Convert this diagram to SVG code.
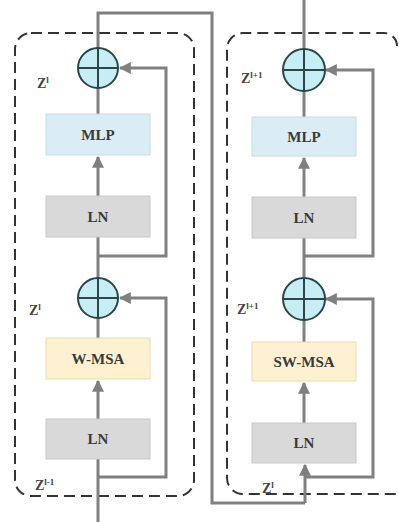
<svg xmlns="http://www.w3.org/2000/svg" width="399" height="522" viewBox="0 0 399 522">
<defs>
<marker id="ah" viewBox="0 0 10 10" refX="9" refY="5" markerWidth="4" markerHeight="4" orient="auto" markerUnits="strokeWidth">
<path d="M0,0 L10,5 L0,10 Z" fill="#7f7f7f"/>
</marker>
</defs>
<style>
.ln{fill:none;stroke:#808080;stroke-width:3}
.arr{fill:none;stroke:#808080;stroke-width:3;marker-end:url(#ah)}
.dash{fill:none;stroke:#333;stroke-width:2;stroke-dasharray:11 6}
.circ{fill:#c6eef4;stroke:#2b4646;stroke-width:2}
.cross{stroke:#2b4646;stroke-width:2}
.mlp{fill:#dbedf4;stroke:#c4dbe4;stroke-width:1}
.lnb{fill:#d9d9d9;stroke:#c9c9c9;stroke-width:1}
.msa{fill:#fdf1d2;stroke:#efdca6;stroke-width:1}
.t{font-family:"Liberation Serif",serif;font-size:15px;fill:#3a3a3a;text-anchor:middle;font-weight:bold}
.z{font-family:"Liberation Serif",serif;font-size:14px;fill:#444;font-weight:bold}
.s{font-size:9px}
</style>
<g id="frames">
<rect class="dash" x="15" y="33" width="179" height="463" rx="16"/>
<path class="dash" d="M397,46 A13,13 0 0 0 384,33 L243,33 A16,16 0 0 0 227,49 L227,478 A16,16 0 0 0 243,494 L397,494"/>
</g>
<g id="connectors">
<path class="ln" d="M98,522 L98,459"/>
<path class="arr" d="M98,419 L98,381"/>
<path class="ln" d="M98,338 L98,318"/>
<path class="ln" d="M98,278 L98,237"/>
<path class="arr" d="M98,196 L98,157"/>
<path class="ln" d="M98,114 L98,88"/>
<path class="ln" d="M98,48 L98,13 L212,13 L212,503 L305,503"/>
<path class="arr" d="M305,503 L305,465"/>
<path class="arr" d="M98,256 L166,256 L166,68 L120,68"/>
<path class="arr" d="M98,477 L166,477 L166,298 L120,298"/>
<path class="ln" d="M304,0 L304,49"/>
<path class="ln" d="M304,91 L304,117"/>
<path class="arr" d="M304,197 L304,158"/>
<path class="ln" d="M304,238 L304,278"/>
<path class="ln" d="M304,320 L304,342"/>
<path class="arr" d="M304,423 L304,383"/>
<path class="arr" d="M304,256 L373,256 L373,70 L326,70"/>
<path class="arr" d="M304,477 L373,477 L373,299 L326,299"/>
</g>
<g id="add1"><circle class="circ" cx="98" cy="68" r="20"/><path class="cross" d="M78,68 H118 M98,48 V88"/></g>
<g id="mlp1"><rect class="mlp" x="46" y="114" width="104" height="41"/><text class="t" x="98" y="140">MLP</text></g>
<g id="ln1"><rect class="lnb" x="46" y="196" width="104" height="41"/><text class="t" x="98" y="222">LN</text></g>
<g id="add2"><circle class="circ" cx="98" cy="298" r="20"/><path class="cross" d="M78,298 H118 M98,278 V318"/></g>
<g id="wmsa"><rect class="msa" x="46" y="338" width="104" height="41"/><text class="t" x="98" y="364">W-MSA</text></g>
<g id="ln2"><rect class="lnb" x="46" y="419" width="104" height="40"/><text class="t" x="98" y="444">LN</text></g>
<g id="add3"><circle class="circ" cx="304" cy="70" r="21"/><path class="cross" d="M283,70 H325 M304,49 V91"/></g>
<g id="mlp2"><rect class="mlp" x="252" y="117" width="104" height="39"/><text class="t" x="304" y="142">MLP</text></g>
<g id="ln3"><rect class="lnb" x="252" y="197" width="104" height="41"/><text class="t" x="304" y="223">LN</text></g>
<g id="add4"><circle class="circ" cx="304" cy="299" r="21"/><path class="cross" d="M283,299 H325 M304,278 V320"/></g>
<g id="swmsa"><rect class="msa" x="252" y="342" width="104" height="39"/><text class="t" x="304" y="367">SW-MSA</text></g>
<g id="ln4"><rect class="lnb" x="252" y="423" width="104" height="40"/><text class="t" x="304" y="448">LN</text></g>
<g id="labels">
<text class="z" x="37" y="88">Z<tspan class="s" dy="-5">l</tspan></text>
<text class="z" x="29" y="315">Z<tspan class="s" dy="-5">l</tspan></text>
<text class="z" x="35" y="490">Z<tspan class="s" dy="-5">l-1</tspan></text>
<text class="z" x="241" y="83">Z<tspan class="s" dy="-5">l+1</tspan></text>
<text class="z" x="237" y="314">Z<tspan class="s" dy="-5">l+1</tspan></text>
<text class="z" x="262" y="493">Z<tspan class="s" dy="-5">l</tspan></text>
</g>
</svg>
